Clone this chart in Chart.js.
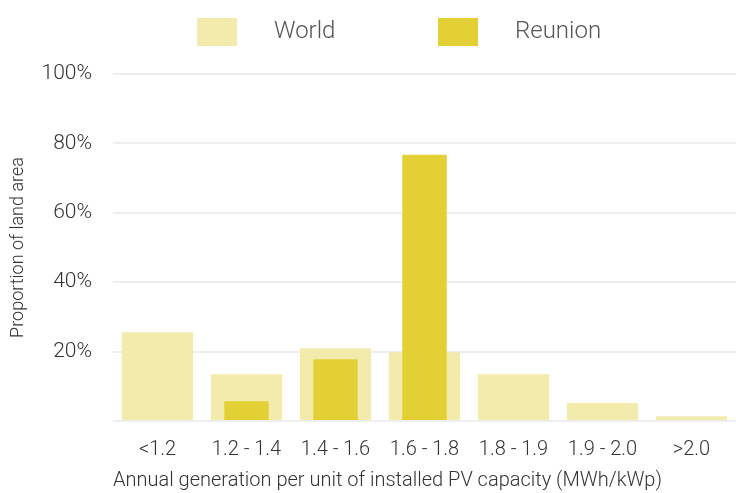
<!DOCTYPE html>
<html>
<head>
<meta charset="utf-8">
<script src="https://cdn.jsdelivr.net/npm/chart.js@4"></script>
<style>
  body { margin: 0; background: #fff; }
  #wrap { width: 736px; height: 493px; }
</style>
</head>
<body>
<div id="wrap"><canvas id="myChart"></canvas></div>
<script>
const categories = ['<1.2', '1.2 - 1.4', '1.4 - 1.6', '1.6 - 1.8', '1.8 - 1.9', '1.9 - 2.0', '>2.0'];
const worldValues = [25.6, 13.5, 21.0, 19.8, 13.5, 5.2, 1.4];
const reunionValues = [0, 5.7, 17.8, 76.7, 0, 0, 0];
const yTicks = [0, 20, 40, 60, 80, 100];

const worldColor = 'rgb(243, 235, 171)';
const reunionColor = 'rgb(227, 208, 52)';
const fontFamily = 'Roboto, "Open Sans", sans-serif';

// legend drawn by hand so the gap between box and text matches
const legendPlugin = {
    id: 'topLegend',
    afterDraw(chart) {
        const c = chart.ctx;
        const items = [
            { text: 'World', color: worldColor, x: 197 },
            { text: 'Reunion', color: reunionColor, x: 438 }
        ];
        c.save();
        c.font = '300 24px ' + fontFamily;
        c.textBaseline = 'middle';
        items.forEach(it => {
            c.fillStyle = it.color;
            c.fillRect(it.x, 18, 40, 28);
            c.fillStyle = '#555';
            c.fillText(it.text, it.x + 77, 32);
        });
        c.restore();
    }
};

const ctx = document.getElementById('myChart');

new Chart(ctx, {
    type: 'bar',
    data: {
        labels: categories,
        datasets: [{
            label: 'World',
            data: worldValues,
            backgroundColor: worldColor,
            grouped: false,
            barPercentage: 0.8,
            categoryPercentage: 1,
            order: 2
        }, {
            label: 'Reunion',
            data: reunionValues,
            backgroundColor: reunionColor,
            grouped: false,
            barPercentage: 0.5,
            categoryPercentage: 1,
            order: 1
        }]
    },
    options: {
        responsive: true,
        maintainAspectRatio: false,
        animation: false,
        layout: { padding: { top: 74, right: 0, left: 0, bottom: 0 } },
        plugins: {
            legend: { display: false },
            tooltip: { enabled: false }
        },
        scales: {
            x: {
                afterFit: axis => { axis.height = 72; },
                grid: { display: false, drawTicks: false },
                border: { display: false },
                ticks: {
                    color: '#333',
                    font: { family: fontFamily, size: 20, weight: 300 },
                    padding: 17
                },
                title: {
                    display: true,
                    align: 'start',
                    text: 'Annual generation per unit of installed PV capacity (MWh/kWp)',
                    color: '#333',
                    font: { family: fontFamily, size: 20, weight: 300 },
                    padding: { top: 4, bottom: 0 }
                }
            },
            y: {
                min: 0,
                max: 100,
                afterFit: axis => { axis.width = 113; },
                afterBuildTicks: axis => { axis.ticks = yTicks.map(v => ({ value: v })); },
                grid: { color: '#eeeeee', lineWidth: 2, drawTicks: false },
                border: { display: false },
                ticks: {
                    color: '#333',
                    font: { family: fontFamily, size: 21, weight: 300 },
                    padding: 21,
                    callback: v => v === 0 ? '' : v + '%'
                },
                title: {
                    display: true,
                    text: 'Proportion of land area',
                    color: '#333',
                    font: { family: fontFamily, size: 18, weight: 300 },
                    padding: { top: 8, bottom: 0 }
                }
            }
        }
    },
    plugins: [legendPlugin]
});
</script>
</body>
</html>
